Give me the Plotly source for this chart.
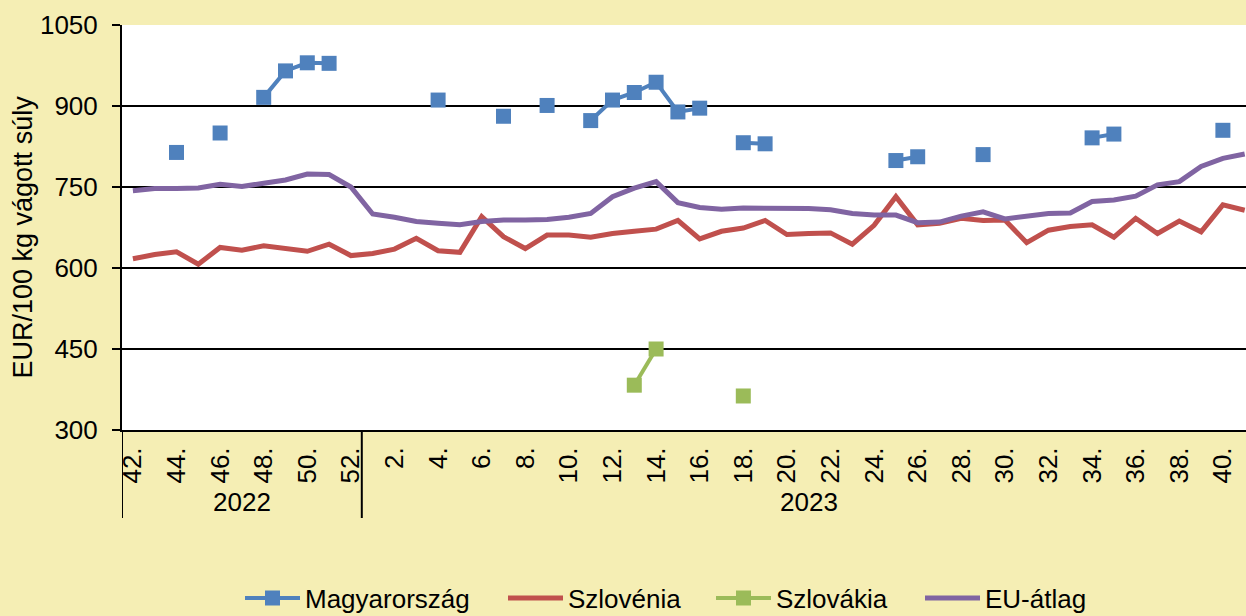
import plotly.graph_objects as go

# Weekly categories: 2022 weeks 42-52, then 2023 weeks 1-41
weeks_2022 = list(range(42, 53))
weeks_2023 = list(range(1, 42))
week_labels = [f"{w}." for w in weeks_2022 + weeks_2023]
x_idx = list(range(len(week_labels)))

# Prices, EUR/100 kg carcass weight (None = no quotation that week)
magyarorszag = [
    None, None, 814, None, 850, None, 916, 965, 980, 979, None,
    None, None, None, 911, None, None, 881, None, 901, None,
    873, 911, 925, 944, 889, 896, None, 832, 830, None,
    None, None, None, None, 799, 806, None, None, 810, None,
    None, None, None, 841, 848, None, None, None, None, 855, None,
]
szlovenia = [
    617, 625, 630, 607, 638, 633, 641, 636, 631, 644, 623,
    627, 635, 655, 632, 629, 695, 658, 636, 661, 661,
    657, 664, 668, 672, 688, 654, 668, 674, 688, 662,
    664, 665, 644, 679, 732, 680, 683, 692, 688, 689,
    647, 670, 677, 680, 657, 692, 664, 687, 667, 717, 707,
]
szlovakia = [None] * 52
szlovakia[23] = 383
szlovakia[24] = 450
szlovakia[28] = 363
eu_atlag = [
    743, 747, 747, 748, 755, 751, 757, 763, 774, 773, 750,
    700, 694, 686, 683, 680, 686, 689, 689, 690, 694,
    701, 732, 748, 760, 721, 712, 709, 711, 711, 711,
    710, 708, 701, 698, 698, 684, 685, 696, 704, 691,
    696, 701, 702, 723, 726, 733, 754, 760, 788, 803, 811,
]

years = ["2022", "2023"]
y_ticks = [300, 450, 600, 750, 900, 1050]
y_title = "EUR/100 kg vágott súly"

FONT = "Liberation Sans, Arial, sans-serif"
FS = 26
BG = "#F5EEB4"
W, H = 1246, 616

series = [
    ("Magyarország", magyarorszag, "#4F81BD", 4, True, "legend"),
    ("Szlovénia", szlovenia, "#C0504D", 5, False, "legend2"),
    ("Szlovákia", szlovakia, "#9BBB59", 4, True, "legend3"),
    ("EU-átlag", eu_atlag, "#8064A2", 5, False, "legend4"),
]

fig = go.Figure()
for name, vals, col, lw, with_markers, leg in series:
    fig.add_trace(go.Scatter(
        x=x_idx, y=vals, name=name,
        mode="lines+markers" if with_markers else "lines",
        line=dict(color=col, width=lw), connectgaps=False,
        marker=dict(symbol="square", size=15, color=col),
        legend=leg,
    ))

n22 = len(weeks_2022)
tick_pos = [i for i, w in enumerate(weeks_2022 + weeks_2023) if w % 2 == 0]
tick_txt = [week_labels[i] for i in tick_pos]

fig.update_xaxes(
    range=[-0.5, 51.06], tickmode="array", tickvals=tick_pos, ticktext=tick_txt,
    tickangle=-90, ticks="", ticklabelstandoff=5, automargin=False,
    showgrid=False, zeroline=False,
    showline=True, linecolor="black", linewidth=2,
    tickfont=dict(family=FONT, size=FS, color="black"),
)
fig.update_yaxes(
    range=[300, 1050], tickvals=y_ticks, ticks="outside", ticklen=8,
    tickwidth=2, tickcolor="black", ticklabelstandoff=9, automargin=False,
    showgrid=True, gridcolor="black", gridwidth=2, zeroline=False,
    showline=True, linecolor="black", linewidth=2,
    tickfont=dict(family=FONT, size=FS, color="black"),
)

plot_w = 1124
plot_h = 405

# Vertical axis title
fig.add_annotation(text=y_title, textangle=-90, xref="paper", yref="paper",
                   x=(22 - 122) / plot_w, y=(430 - 237.5) / plot_h,
                   showarrow=False, xanchor="center", yanchor="middle",
                   font=dict(family=FONT, size=27, color="black"))

# Year group separators and labels below the week ticks
sep_bottom = -(518 - 430) / plot_h
for xs in [-0.5, n22 - 0.5]:
    fig.add_shape(type="line", xref="x", yref="paper", x0=xs, x1=xs,
                  y0=0, y1=sep_bottom, line=dict(color="black", width=2))
year_centres = [(-0.5 + n22 - 0.5) / 2, (n22 - 0.5 + 51.5) / 2]
for yr, xc in zip(years, year_centres):
    fig.add_annotation(text=yr, x=xc, xref="x", y=-(502 - 430) / plot_h,
                       yref="paper", showarrow=False, yanchor="middle",
                       font=dict(family=FONT, size=FS, color="black"))

# One legend box per series, laid out along the bottom edge
legend_starts = [240, 503, 711, 920]
legend_style = dict(orientation="h", xref="container", yref="container",
                    xanchor="left", y=(H - 598) / H, yanchor="middle",
                    itemwidth=55, bgcolor="rgba(0,0,0,0)",
                    font=dict(family=FONT, size=FS, color="black"))
legends = {}
for (name, _, _, _, _, leg), xs in zip(series, legend_starts):
    legends[leg] = dict(legend_style, x=xs / W)

fig.update_layout(
    width=W, height=H,
    margin=dict(l=122, r=0, t=25, b=186),
    paper_bgcolor=BG, plot_bgcolor="white",
    showlegend=True,
    **legends,
)

fig.write_html("out.html")
